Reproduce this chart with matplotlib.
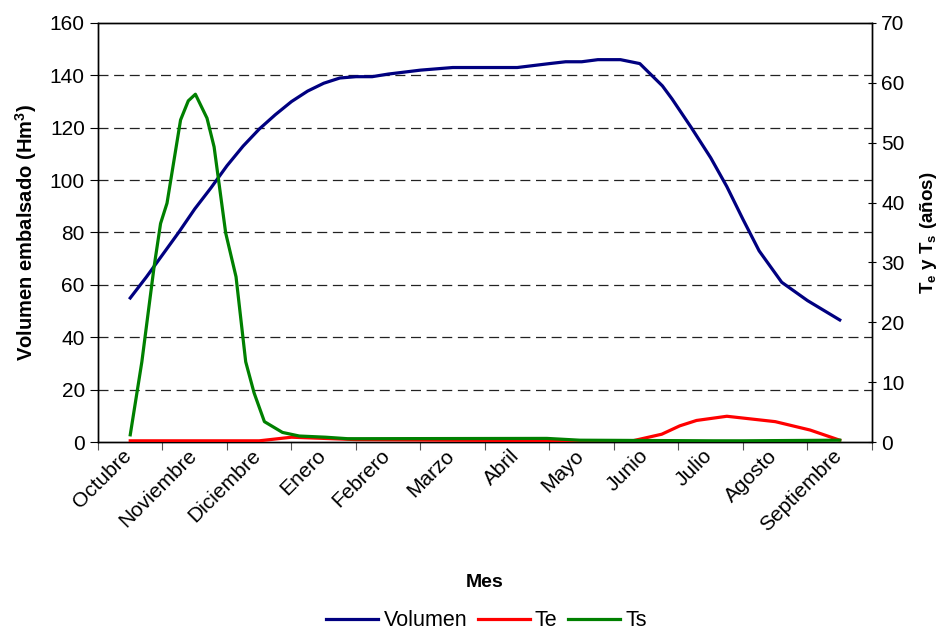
import numpy as np
import matplotlib
matplotlib.use("Agg")
import matplotlib.pyplot as plt
import matplotlib.transforms as mtransforms

plt.rcParams['font.family'] = ['Liberation Sans', 'DejaVu Sans']
plt.rcParams['mathtext.fontset'] = 'custom'
plt.rcParams['mathtext.rm'] = 'Liberation Sans'
plt.rcParams['mathtext.bf'] = 'Liberation Sans:bold'

# month names (category axis)
meses = ["Octubre", "Noviembre", "Diciembre", "Enero", "Febrero", "Marzo",
         "Abril", "Mayo", "Junio", "Julio", "Agosto", "Septiembre"]

# volumen embalsado (Hm3); x in month units, 0 = Octubre
vol_t = [0.0, 0.25, 0.5, 0.75, 1.0, 1.25, 1.5, 1.75, 2.0, 2.25, 2.5, 2.75,
         3.0, 3.25, 3.5, 3.75, 4.0, 4.5, 5.0, 5.5, 6.0, 6.5, 6.75, 7.0, 7.25,
         7.6, 7.9, 8.25, 8.4, 8.7, 9.0, 9.25, 9.5, 9.75, 10.1, 10.5, 11.0]
vol = [55, 63, 71.5, 80, 89, 97, 105.5, 113, 119.5, 125, 130, 134,
       137, 139, 139.5, 139.5, 140.5, 142, 143, 143, 143, 144.5, 145.2, 145.2, 146,
       146, 144.5, 136, 131, 120, 108.5, 97.5, 85, 73, 61, 54, 46.6]

# Te (años)
te_t = [0.0, 2.0, 2.5, 3.0, 3.5, 5.0, 7.0, 7.79, 8.24, 8.52, 8.78, 9.25,
        10.0, 10.54, 11.0]
te = [0.2, 0.2, 0.8, 0.6, 0.4, 0.3, 0.2, 0.2, 1.3, 2.7, 3.6, 4.3,
      3.4, 2.0, 0.3]

# Ts (años)
ts_t = [0.0, 0.18, 0.37, 0.47, 0.57, 0.78, 0.9, 1.01, 1.19, 1.30,
        1.48, 1.64, 1.79, 1.92, 2.08, 2.36, 2.62, 3.03, 3.37, 6.46, 6.97,
        9.03, 9.5, 11.0]
ts = [1.2, 13.4, 29.3, 36.5, 39.9, 53.8, 57.0, 58.1, 54.1, 49.3,
      34.9, 27.6, 13.4, 8.2, 3.4, 1.6, 1.0, 0.8, 0.55, 0.6, 0.3,
      0.2, 0.2, 0.3]

fig = plt.figure(figsize=(9.45, 6.35), dpi=100)
ax = fig.add_axes([98 / 945, 1 - 442 / 635, (872 - 98) / 945, (442 - 23) / 635])
ax2 = ax.twinx()

lw = 2.3
l1, = ax.plot(vol_t, vol, color='#000080', lw=lw, label='Volumen', zorder=3)
l2, = ax2.plot(te_t, te, color='#FF0000', lw=lw, label='Te', zorder=3)
l3, = ax2.plot(ts_t, ts, color='#008000', lw=lw, label='Ts', zorder=4)

ax.set_xlim(-0.5, 11.5)
ax.set_ylim(0, 160)
ax2.set_ylim(0, 70)
ax.set_yticks(np.arange(0, 161, 20))
ax2.set_yticks(np.arange(0, 71, 10))

# grid lines at left axis ticks
for v in range(20, 160, 20):
    ax.axhline(v, color='#222222', lw=0.9, dashes=(8, 4.5), zorder=1)

# category ticks at boundaries, labels at centers
ax.set_xticks(np.arange(-0.5, 11.6, 1.0))
ax.set_xticklabels([])
ax.set_xticks(np.arange(12), minor=True)
ax.set_xticklabels(meses, minor=True, rotation=45, ha='right',
                   rotation_mode='anchor', fontsize=15)
ax.tick_params(axis='x', which='minor', length=0, pad=3)
ax.tick_params(axis='x', which='major', length=6, direction='out', color='#555555')
ax.tick_params(axis='y', labelsize=15, length=6, direction='out')
ax2.tick_params(axis='y', labelsize=15, length=6, direction='inout')

# nudge month labels a little to the left
shift = mtransforms.ScaledTranslation(-8 / 100, 0, fig.dpi_scale_trans)
for lab in ax.get_xticklabels(minor=True):
    lab.set_transform(lab.get_transform() + shift)

for s in ax.spines.values():
    s.set_linewidth(1.0)
for s in ax2.spines.values():
    s.set_linewidth(1.0)

ax.set_ylabel(r'Volumen embalsado (Hm$^\mathbf{3}$)', fontsize=14.5,
              fontweight='bold', labelpad=8)
ax2.set_ylabel(r'T$_\mathbf{e}$ y T$_\mathbf{s}$ (años)', fontsize=13.5,
               fontweight='bold', labelpad=10)
ax.set_xlabel('Mes', fontsize=14, fontweight='bold', labelpad=28)

fig.legend(handles=[l1, l2, l3], loc='lower center',
           bbox_to_anchor=(0.515, -0.025), ncol=3, frameon=False, fontsize=15.5,
           handlelength=2.4, handletextpad=0.25, columnspacing=0.5)

fig.savefig('out.png', dpi=100)
